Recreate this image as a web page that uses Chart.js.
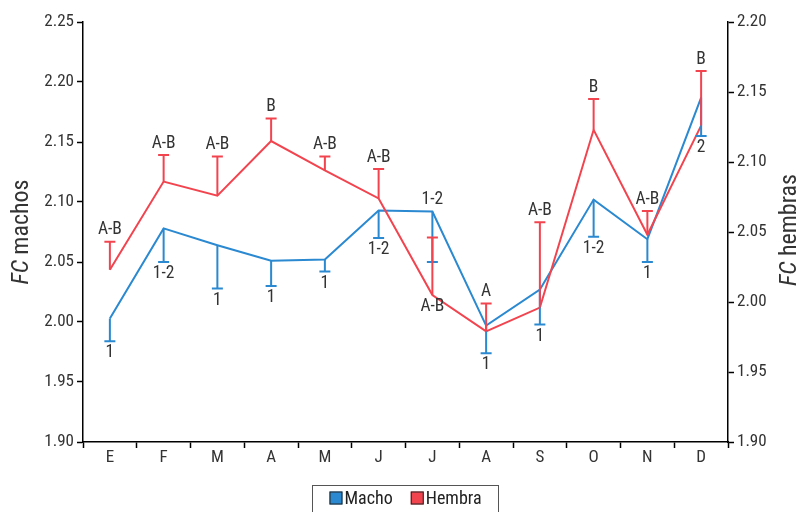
<!DOCTYPE html>
<html>
<head>
<meta charset="utf-8">
<script src="https://cdn.jsdelivr.net/npm/chart.js@4/dist/chart.umd.min.js"></script>
<style>
html,body{margin:0;padding:0;background:#fff;}
#wrap{width:801px;height:512px;position:relative;}
</style>
</head>
<body>
<div id="wrap"><canvas id="c" width="801" height="512"></canvas></div>
<script>
const categories = ['E','F','M','A','M','J','J','A','S','O','N','D'];
const machoValues = [2.003, 2.078, 2.064, 2.051, 2.052, 2.093, 2.092, 1.997, 2.027, 2.102, 2.069, 2.187];
const machoErrors = [0.019, 0.028, 0.036, 0.021, 0.010, 0.023, 0.042, 0.023, 0.029, 0.031, 0.019, 0.032];
const machoLetters = ['1','1-2','1','1','1','1-2','1-2','1','1','1-2','1','2'];
const machoLabelSide = ['below','below','below','below','below','below','above','below','below','below','below','below'];
const hembraValues = [2.023, 2.086, 2.076, 2.115, 2.094, 2.074, 2.005, 1.979, 1.996, 2.123, 2.048, 2.126];
const hembraErrors = [0.020, 0.019, 0.028, 0.016, 0.010, 0.021, 0.041, 0.020, 0.061, 0.022, 0.017, 0.039];
const hembraLetters = ['A-B','A-B','A-B','B','A-B','A-B','A-B','A','A-B','B','A-B','B'];
const hembraLabelSide = ['above','above','above','above','above','above','below','above','above','above','above','above'];
const leftTicks = [1.90, 1.95, 2.00, 2.05, 2.10, 2.15, 2.20, 2.25];
const rightTicks = [1.90, 1.95, 2.00, 2.05, 2.10, 2.15, 2.20];

const BLUE = '#2a89d0';
const RED = '#f2444f';
const FONT = "'Liberation Sans Narrow', 'Roboto Condensed', 'Arial Narrow', Roboto, sans-serif";
const TXT = '#333333';

const errorPlugin = {
  id: 'errorBars',
  afterDatasetsDraw(chart) {
    const ctx = chart.ctx;
    const specs = [
      {idx: 1, vals: machoValues, errs: machoErrors, dir: -1, letters: machoLetters, side: machoLabelSide, scale: chart.scales.y, color: BLUE},
      {idx: 0, vals: hembraValues, errs: hembraErrors, dir: 1, letters: hembraLetters, side: hembraLabelSide, scale: chart.scales.y1, color: RED}
    ];
    ctx.save();
    specs.forEach(s => {
      const meta = chart.getDatasetMeta(s.idx);
      meta.data.forEach((pt, i) => {
        const x = pt.x, y = pt.y;
        const ye = s.scale.getPixelForValue(s.vals[i] + s.dir * s.errs[i]);
        ctx.strokeStyle = s.color;
        ctx.lineWidth = 2;
        ctx.beginPath();
        ctx.moveTo(x, y); ctx.lineTo(x, ye);
        ctx.moveTo(x - 5.5, ye); ctx.lineTo(x + 5.5, ye);
        ctx.stroke();
      });
    });
    ctx.fillStyle = TXT;
    ctx.font = "17.5px " + FONT;
    ctx.textAlign = 'center';
    specs.forEach(s => {
      const meta = chart.getDatasetMeta(s.idx);
      meta.data.forEach((pt, i) => {
        const x = pt.x, y = pt.y;
        const ye = s.scale.getPixelForValue(s.vals[i] + s.dir * s.errs[i]);
        const top = Math.min(y, ye), bot = Math.max(y, ye);
        if (s.side[i] === 'above') {
          ctx.textBaseline = 'bottom';
          ctx.fillText(s.letters[i], x, top - 3);
        } else {
          ctx.textBaseline = 'top';
          ctx.fillText(s.letters[i], x, bot + 3);
        }
      });
    });
    ctx.restore();
  },
  afterDraw(chart) {
    const ctx = chart.ctx;
    ctx.save();
    function title(x, yc, italic, rest) {
      ctx.save();
      ctx.translate(x, yc);
      ctx.rotate(-Math.PI / 2);
      ctx.fillStyle = TXT;
      ctx.textBaseline = 'middle';
      ctx.textAlign = 'left';
      ctx.font = "italic 24px " + FONT;
      const w1 = ctx.measureText(italic).width;
      ctx.font = "24px " + FONT;
      const w2 = ctx.measureText(rest).width;
      const tot = w1 + w2;
      ctx.font = "italic 24px " + FONT;
      ctx.fillText(italic, -tot / 2, 0);
      ctx.font = "24px " + FONT;
      ctx.fillText(rest, -tot / 2 + w1, 0);
      ctx.restore();
    }
    title(22, 232, 'FC', ' machos');
    title(790, 230, 'FC', ' hembras');
    const ds = chart.data.datasets;
    const items = [ds[1], ds[0]];
    ctx.font = "18px " + FONT;
    ctx.textBaseline = 'middle';
    ctx.textAlign = 'left';
    const box = 13, gap = 2, spacing = 18;
    let total = 0;
    const widths = items.map(d => ctx.measureText(d.label).width);
    widths.forEach(w => total += box + gap + w);
    total += spacing;
    const cx = (chart.chartArea.left + chart.chartArea.right) / 2;
    let lx = cx - total / 2;
    const ly = 498;
    ctx.strokeStyle = '#555';
    ctx.lineWidth = 1;
    ctx.strokeRect(Math.round(lx - 17) + 0.5, 485.5, Math.round(total + 34), 40);
    items.forEach((d, k) => {
      ctx.fillStyle = d.borderColor;
      ctx.fillRect(lx, ly - box / 2, box, box);
      ctx.strokeStyle = '#222';
      ctx.strokeRect(lx + 0.5, ly - box / 2 + 0.5, box - 1, box - 1);
      ctx.fillStyle = '#222';
      ctx.fillText(d.label, lx + box + gap, ly + 1);
      lx += box + gap + widths[k] + spacing;
    });
    ctx.restore();
  }
};

new Chart(document.getElementById('c'), {
  type: 'line',
  data: {
    labels: categories,
    datasets: [
      {label: 'Hembra', data: hembraValues, yAxisID: 'y1', borderColor: RED, backgroundColor: RED, borderWidth: 2, pointRadius: 0, tension: 0},
      {label: 'Macho', data: machoValues, yAxisID: 'y', borderColor: BLUE, backgroundColor: BLUE, borderWidth: 2, pointRadius: 0, tension: 0}
    ]
  },
  options: {
    responsive: false,
    animation: false,
    layout: {padding: {top: 22, bottom: 38, left: 0, right: 0}},
    plugins: {legend: {display: false}, tooltip: {enabled: false}},
    scales: {
      x: {
        offset: true,
        grid: {display: true, offset: true, drawOnChartArea: false, tickLength: 6, color: '#000', tickWidth: 1.5},
        border: {color: '#000', width: 1.5},
        ticks: {color: TXT, font: {family: FONT, size: 17}, padding: 0, maxRotation: 0, autoSkip: false},
        afterFit(s) { s.height = 32; }
      },
      y: {
        position: 'left',
        min: 1.90, max: 2.25,
        afterBuildTicks(s) { s.ticks = leftTicks.map(v => ({value: v})); },
        grid: {display: true, drawOnChartArea: false, tickLength: 6, color: '#000', tickWidth: 1.5},
        border: {color: '#000', width: 1.5},
        ticks: {color: TXT, font: {family: FONT, size: 17}, padding: 3, callback: v => v.toFixed(2)},
        afterFit(s) { s.width = 83; }
      },
      y1: {
        position: 'right',
        min: 1.90, max: 2.20,
        afterBuildTicks(s) { s.ticks = rightTicks.map(v => ({value: v})); },
        grid: {display: true, drawOnChartArea: false, tickLength: 6, color: '#000', tickWidth: 1.5},
        border: {color: '#000', width: 1.5},
        ticks: {color: TXT, font: {family: FONT, size: 17}, padding: 3, callback: v => v.toFixed(2)},
        afterFit(s) { s.width = 73; }
      }
    }
  },
  plugins: [errorPlugin]
});
</script>
</body>
</html>
